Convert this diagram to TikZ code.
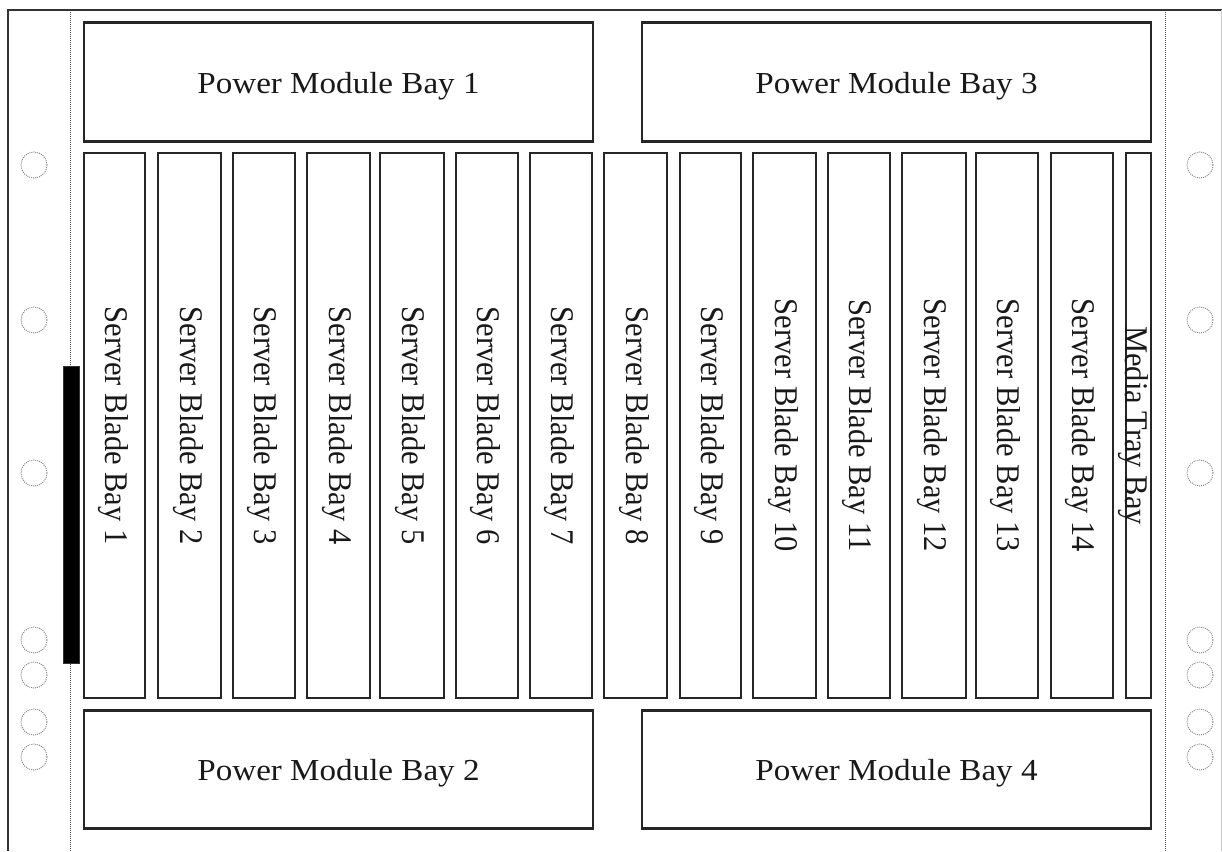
\documentclass[tikz,border=0pt]{standalone}
\usepackage{fontspec}
\setmainfont{Liberation Serif}
\begin{document}
\begin{tikzpicture}[x=1pt,y=-1pt,
  box/.style={draw=black!85, line width=2.3pt, inner sep=0pt, outer sep=0pt},
  lbl/.style={font=\fontsize{30.5}{34}\selectfont, xscale=1.085, inner sep=0pt, text=black!90},
  vlbl/.style={lbl, rotate=-90},
  hole/.style={circle, draw=black!45, densely dotted, line width=1pt, minimum size=26pt, inner sep=0pt},
  guide/.style={draw=black!70, densely dotted, line width=1pt},
  frame/.style={draw=black!80, line width=2pt}]
\useasboundingbox (0,0) rectangle (1222,851);
% outer frame
\draw[frame] (8,851) -- (8,10) -- (1222,10);
\draw[black!20, line width=1pt] (1221,10) -- (1221,851);
% guide lines
\draw[guide] (70,12) -- (70,851);
\draw[guide] (1165,12) -- (1165,851);
% black bar
\node[fill=black, draw=black!80, line width=0.8pt, minimum width=16pt, minimum height=297pt, inner sep=0pt] (bar) at (71,514.5) {};
% holes
\foreach \yy [count=\i] in {165,320,473,640,675,722,757}{
  \node[hole] (hl\i) at (34,\yy) {};
  \node[hole] (hr\i) at (1200,\yy) {};
}
% power modules
\node[box, minimum width=509pt, minimum height=119pt] (pm1) at (338.5,82) {};
\node[box, minimum width=509pt, minimum height=119pt] (pm3) at (896.5,82) {};
\node[box, minimum width=509pt, minimum height=118pt] (pm2) at (338.5,769.5) {};
\node[box, minimum width=509pt, minimum height=118pt] (pm4) at (896.5,769.5) {};
\node[lbl] (tpm1) at ([yshift=-4pt]pm1.center) {Power Module Bay 1};
\node[lbl] (tpm3) at ([yshift=-4pt]pm3.center) {Power Module Bay 3};
\node[lbl] (tpm2) at ([yshift=-4pt]pm2.center) {Power Module Bay 2};
\node[lbl] (tpm4) at ([yshift=-4pt]pm4.center) {Power Module Bay 4};
% server blades
\foreach \l/\r [count=\i] in {84/145,158/221,233/295,307/370,380/444,456/518,530/592,604/667,680/741,753/816,828/890,902/966,976/1038,1051/1113}{
  \pgfmathsetmacro{\w}{\r-\l}
  \pgfmathsetmacro{\c}{(\r+\l)/2}
  \node[box, minimum width=\w pt, minimum height=545pt] (sb\i) at (\c,425.5) {};
  \node[vlbl] (tsb\i) at ([xshift=-1.5pt]sb\i.center) {Server Blade Bay \i};
}
% media tray
\node[box, minimum width=25pt, minimum height=545pt] (mt) at (1138.5,425.5) {};
\node[vlbl] (tmt) at (1133,425.5) {Media Tray Bay};
\end{tikzpicture}
\end{document}
